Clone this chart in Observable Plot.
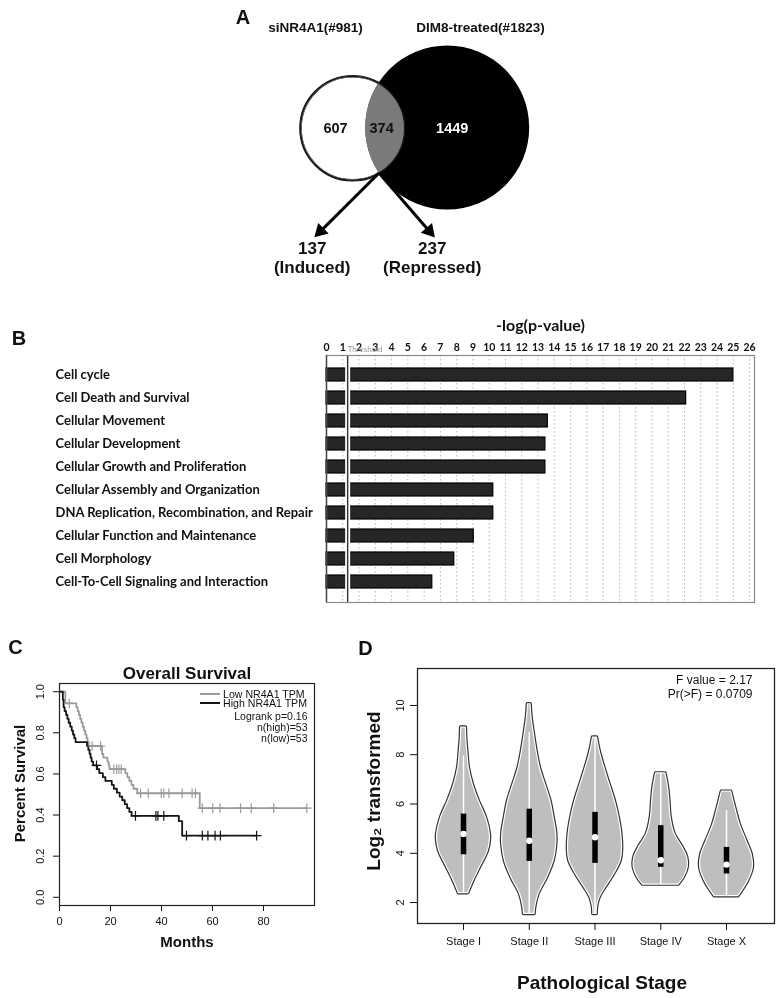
<!DOCTYPE html>
<html><head><meta charset="utf-8">
<script src="https://cdn.jsdelivr.net/npm/d3@7"></script>
<script src="https://cdn.jsdelivr.net/npm/@observablehq/plot@0.6"></script>
<style>
body{margin:0;background:#fff;}
#root{position:relative;width:777px;height:998px;overflow:hidden;background:#fff;font-family:"Liberation Sans",Arial,sans-serif;color:#111;}
.panel{position:absolute;}
.letter{position:absolute;font-weight:bold;font-size:20px;line-height:1;transform:translate(-50%,-50%);}
.leg{position:absolute;font-size:10.6px;line-height:1;white-space:nowrap;transform:translateY(-50%);}
.sw{position:absolute;height:0;}
</style></head><body><div id="root"></div>
<script>
// ================= DATA =================
// Panel A – Venn
const vennSetNames = ["siNR4A1(#981)", "DIM8-treated(#1823)"];
const vennSetSizes = [981, 1823];
const vennRegionCounts = [607, 374, 1449];          // only siNR4A1, overlap, only DIM8
const overlapSplitCounts = [137, 237];
const overlapSplitLabels = ["(Induced)", "(Repressed)"];

// Panel B – pathway enrichment
const pathwayCategories = [
  "Cell cycle", "Cell Death and Survival", "Cellular Movement", "Cellular Development",
  "Cellular Growth and Proliferation", "Cellular Assembly and Organization",
  "DNA Replication, Recombination, and Repair", "Cellular Function and Maintenance",
  "Cell Morphology", "Cell-To-Cell Signaling and Interaction"
];
const pathwayScores = [25.0, 22.1, 13.6, 13.45, 13.45, 10.25, 10.25, 9.05, 7.85, 6.5];
const thresholdScore = 1.3;
const pathwayTicks = d3.range(0, 27);

// Panel C – Kaplan-Meier
const kmLowTimes = [0, 2.3, 6.6, 7.1, 7.6, 8.1, 8.6, 9.1, 9.6, 10.1, 10.6, 11.0, 11.5, 16.7, 17.2, 18.8, 19.3, 19.6, 25.8, 26.6, 27.4, 28.2, 29.0, 30.5, 55.0];
const kmLowSurv  = [1.0, 0.943, 0.925, 0.906, 0.887, 0.868, 0.849, 0.830, 0.811, 0.792, 0.774, 0.755, 0.736, 0.698, 0.679, 0.660, 0.642, 0.623, 0.604, 0.585, 0.566, 0.547, 0.528, 0.506, 0.434];
const kmLowEnd = 97;
const kmLowCensor = [3.8, 12.8, 16.1, 21.3, 22.4, 23.3, 24.2, 31.8, 34.8, 39.9, 40.9, 42.9, 48.1, 52.0, 53.3, 56.0, 60.1, 62.9, 71.0, 75.2, 84.0, 97.0];
const kmHighTimes = [0, 1.3, 1.6, 2.0, 2.6, 3.1, 3.6, 4.2, 4.8, 5.3, 5.8, 6.3, 10.8, 11.3, 11.8, 12.2, 12.6, 13.2, 14.8, 15.6, 17.0, 18.0, 20.5, 21.3, 22.5, 23.6, 24.6, 25.6, 26.5, 27.4, 28.3, 46.8, 48.1];
const kmHighSurv  = [1.0, 0.962, 0.925, 0.906, 0.887, 0.868, 0.849, 0.830, 0.811, 0.792, 0.774, 0.755, 0.736, 0.717, 0.698, 0.679, 0.660, 0.642, 0.623, 0.604, 0.585, 0.566, 0.547, 0.528, 0.509, 0.490, 0.472, 0.453, 0.434, 0.415, 0.396, 0.370, 0.300];
const kmHighEnd = 77.3;
const kmHighCensor = [14.5, 29.8, 37.8, 38.6, 40.9, 49.8, 56.0, 58.2, 61.0, 63.1, 77.3];
const kmXTicks = [0, 20, 40, 60, 80];
const kmYTicks = [0, 0.2, 0.4, 0.6, 0.8, 1.0];
const kmGroups = ["Low NR4A1 TPM", "High NR4A1 TPM"];
const kmStats = ["Logrank p=0.16", "n(high)=53", "n(low)=53"];

// Panel D – violin plot (value, relative half-width of density)
const stageNames = ["Stage I", "Stage II", "Stage III", "Stage IV", "Stage X"];
const violinStageI   = [[2.38,0.07],[2.89,0.15],[3.43,0.25],[4.1,0.37],[4.5,0.40],[4.78,0.40],[5.45,0.34],[6.13,0.23],[6.8,0.14],[7.48,0.08],[8.15,0.056],[8.6,0.042],[9.1,0.035]];
const violinStageII  = [[1.54,0.08],[1.81,0.09],[2.35,0.14],[3.02,0.27],[3.7,0.37],[4.37,0.41],[4.78,0.41],[5.45,0.37],[6.13,0.32],[6.8,0.24],[7.48,0.16],[8.15,0.11],[8.83,0.07],[9.5,0.035],[10.05,0.02]];
const violinStageIII = [[1.54,0.025],[1.81,0.03],[2.21,0.07],[2.62,0.16],[3.16,0.29],[3.7,0.39],[4.1,0.41],[4.78,0.40],[5.45,0.36],[6.13,0.30],[6.8,0.22],[7.48,0.14],[8.15,0.07],[8.7,0.03]];
const violinStageIV  = [[2.73,0.27],[3.02,0.35],[3.43,0.41],[3.84,0.40],[4.24,0.33],[4.78,0.21],[5.45,0.15],[6.13,0.13],[6.67,0.11],[7.24,0.07]];
const violinStageX   = [[2.26,0.18],[2.89,0.33],[3.43,0.40],[3.97,0.38],[4.51,0.30],[5.18,0.20],[5.86,0.13],[6.5,0.07]];
const stageMin       = [2.38, 1.54, 1.54, 2.73, 2.26];
const stageUpper     = [7.95, 8.9, 8.7, 7.24, 5.73];
const stageQ1        = [3.94, 3.67, 3.59, 3.43, 3.16];
const stageMedian    = [4.78, 4.51, 4.65, 3.72, 3.54];
const stageQ3        = [5.59, 5.79, 5.66, 5.12, 4.24];
const violinYTicks = [2, 4, 6, 8, 10];
const anovaText = ["F value = 2.17", "Pr(>F) = 0.0709"];

// ================= LAYOUT =================
const root = document.getElementById("root");
function place(node, left, top) {
  const d = document.createElement("div");
  d.className = "panel"; d.style.left = left + "px"; d.style.top = top + "px";
  d.appendChild(node); root.appendChild(d); return d;
}
function letter(t, x, y) {
  const d = document.createElement("div");
  d.className = "letter"; d.textContent = t; d.style.left = x + "px"; d.style.top = y + "px";
  root.appendChild(d);
}

// ---------- Panel A ----------
const vennLayout = {centers: [[122, 127.8], [216.7, 127]], radius: [52, 82]};
const vennCircles = vennSetSizes.map((size, i) => ({size, name: vennSetNames[i], cx: vennLayout.centers[i][0], cy: vennLayout.centers[i][1]}));
(function () {
  const [c1, c2] = vennLayout.centers, [r1, r2] = vennLayout.radius;
  const dx = c2[0] - c1[0], dy = c2[1] - c1[1], d = Math.hypot(dx, dy);
  const a = (d * d + r1 * r1 - r2 * r2) / (2 * d), h = Math.sqrt(r1 * r1 - a * a);
  const px = c1[0] + a * dx / d, py = c1[1] + a * dy / d;
  vennLayout.lowerPoint = [px - h * dy / d, py + h * dx / d];
  vennLayout.lensCenter = [px, py];
})();
const vennRegions = [
  {count: vennRegionCounts[0], x: 105, y: vennLayout.lensCenter[1], fill: "#111"},
  {count: vennRegionCounts[1], x: vennLayout.lensCenter[0] + 3, y: vennLayout.lensCenter[1], fill: "#111"},
  {count: vennRegionCounts[2], x: 221.7, y: vennLayout.lensCenter[1], fill: "#fff"}
];
const splitX = [81.7, 201.7];
const vennSplit = overlapSplitCounts.map((c, i) => ({count: c, label: overlapSplitLabels[i], x: splitX[i]}));
const vennArrows = vennSplit.map((s, i) => {
  const x1 = vennLayout.lowerPoint[0], y1 = vennLayout.lowerPoint[1];
  const x2 = s.x + (i ? 0 : 5), y2 = 234;
  const L = Math.hypot(x2 - x1, y2 - y1), ux = (x2 - x1) / L, uy = (y2 - y1) / L;
  return {x1, y1, x2, y2, lx: x2 - 7 * ux, ly: y2 - 7 * uy, hx: x2 - 4.5 * ux, hy: y2 - 4.5 * uy,
          angle: Math.atan2(ux, -uy) * 180 / Math.PI};
});
const titleX = [85, 250];

const plotA = Plot.plot({
  width: 420, height: 290, margin: 0,
  x: {domain: [0, 420], axis: null}, y: {domain: [290, 0], axis: null},
  r: {type: "linear", domain: vennSetSizes, range: vennLayout.radius},
  style: {fontFamily: "Liberation Sans, Arial, sans-serif", background: "white", color: "#111"},
  marks: [
    Plot.dot([vennCircles[0]], {x: "cx", y: "cy", r: "size", fill: "none", stroke: "#1a1a1a", strokeWidth: 2.6}),
    Plot.dot([vennCircles[1]], {x: "cx", y: "cy", r: "size", fill: "#000"}),
    Plot.dot([vennCircles[0]], {x: "cx", y: "cy", r: "size", fill: "#7a7a7a", stroke: "#a8a8a8", strokeWidth: 1, mixBlendMode: "lighten"}),
    Plot.dot([vennCircles[0]], {x: "cx", y: "cy", r: "size", fill: "none", stroke: "#1a1a1a", strokeWidth: 1.3, mixBlendMode: "darken"}),
    Plot.link(vennArrows, {x1: "x1", y1: "y1", x2: "lx", y2: "ly", stroke: "#000", strokeWidth: 3}),
    Plot.dot(vennArrows, {x: "hx", y: "hy", symbol: "triangle", r: 5.5, fill: "#000", rotate: "angle"}),
    Plot.text(vennCircles, {x: (d, i) => titleX[i], y: 27, text: "name", fontSize: 13.5, fontWeight: "bold"}),
    Plot.text(vennRegions, {x: "x", y: "y", text: d => String(d.count), fill: "fill", fontSize: 14.5, fontWeight: "bold"}),
    Plot.text(vennSplit, {x: "x", y: 248, text: d => String(d.count), fontSize: 17, fontWeight: "bold"}),
    Plot.text(vennSplit, {x: "x", y: 267, text: "label", fontSize: 17, fontWeight: "bold"})
  ]
});
place(plotA, 230, 0);

// ---------- Panel B ----------
const pathwayRows = pathwayCategories.map((c, i) => ({category: c, score: pathwayScores[i]}));
const plotB = Plot.plot({
  width: 777, height: 300, marginLeft: 326, marginRight: 23, marginTop: 45, marginBottom: 8,
  x: {domain: [0, 26.3], axis: "top", ticks: pathwayTicks, tickSize: 0, tickPadding: 5, label: null},
  y: {domain: pathwayCategories, paddingInner: 0.42, paddingOuter: 0.55, axis: null},
  style: {fontFamily: "Lato, Calibri, sans-serif", fontWeight: "bold", fontSize: "10.5px", background: "white", color: "#111"},
  marks: [
    Plot.ruleX(pathwayTicks.filter(t => t > 0), {stroke: "#b5b5b5", strokeDasharray: "1.5,2.5", strokeWidth: 1}),
    Plot.barX(pathwayRows, {x: "score", y: "category", fill: "#262626", stroke: "#000", strokeWidth: 1.2}),
    Plot.ruleX([thresholdScore], {stroke: "#fff", strokeWidth: 5}),
    Plot.ruleX([thresholdScore], {stroke: "#333", strokeWidth: 1.4}),
    Plot.frame({stroke: "#8a8a8a", strokeWidth: 1.2}),
    Plot.ruleX([0], {stroke: "#444", strokeWidth: 1.4}),
    Plot.text(pathwayRows, {y: "category", text: "category", frameAnchor: "left", textAnchor: "start", lineAnchor: "middle", dx: -271, fontSize: 13, fill: "#111"}),
    Plot.text(["-log(p-value)"], {frameAnchor: "top", lineAnchor: "middle", dy: -30, fontSize: 16, fill: "#111"}),
    Plot.text(["Threshold"], {x: thresholdScore, frameAnchor: "top", textAnchor: "start", lineAnchor: "middle", dy: -6, dx: 0, fontSize: 8, fontWeight: "normal", fill: "#9a9a9a"})
  ]
});
place(plotB, 0, 310);

// ---------- Panel C ----------
function kmRows(group, times, surv, end) {
  return [...times.map((t, i) => ({group, t, s: surv[i]})), {group, t: end, s: surv[surv.length - 1]}];
}
function stepValue(times, surv, t) {
  let v = surv[0];
  for (let i = 0; i < times.length; i++) if (times[i] <= t) v = surv[i];
  return v;
}
const kmLow = kmRows(kmGroups[0], kmLowTimes, kmLowSurv, kmLowEnd);
const kmHigh = kmRows(kmGroups[1], kmHighTimes, kmHighSurv, kmHighEnd);
const kmLowCens = kmLowCensor.map(t => ({t, s: stepValue(kmLowTimes, kmLowSurv, t)}));
const kmHighCens = kmHighCensor.map(t => ({t, s: stepValue(kmHighTimes, kmHighSurv, t)}));
const kmColors = ["#9b9b9b", "#151515"];

const plotC = Plot.plot({
  width: 340, height: 310, marginLeft: 59, marginRight: 26, marginTop: 43, marginBottom: 45,
  x: {domain: [0, 100], ticks: kmXTicks, tickSize: 6, tickPadding: 6, label: null},
  y: {domain: [-0.04, 1.04], ticks: kmYTicks, tickSize: 6, tickFormat: () => "", label: null},
  style: {fontFamily: "Liberation Sans, Arial, sans-serif", fontSize: "11px", background: "white", color: "#111"},
  marks: [
    Plot.line(kmLow, {x: "t", y: "s", curve: "step-after", stroke: kmColors[0], strokeWidth: 1.8}),
    Plot.line(kmHigh, {x: "t", y: "s", curve: "step-after", stroke: kmColors[1], strokeWidth: 1.8}),
    Plot.dot(kmLowCens, {x: "t", y: "s", symbol: "plus", r: 3.2, stroke: kmColors[0], strokeWidth: 1.2}),
    Plot.dot(kmHighCens, {x: "t", y: "s", symbol: "plus", r: 3.2, stroke: kmColors[1], strokeWidth: 1.2}),
    Plot.frame({stroke: "#222", strokeWidth: 1.2}),
    Plot.text(kmYTicks, {y: d => d, text: d => d.toFixed(1), frameAnchor: "left", textAnchor: "middle", lineAnchor: "middle", dx: -19, rotate: -90, fontSize: 11}),
    Plot.text(["Overall Survival"], {frameAnchor: "top", lineAnchor: "middle", dy: -10, fontSize: 17, fontWeight: "bold"}),
    Plot.text(["Percent Survival"], {frameAnchor: "left", textAnchor: "middle", lineAnchor: "middle", dx: -39, dy: -11, rotate: -90, fontSize: 15, fontWeight: "bold"}),
    Plot.text(["Months"], {frameAnchor: "bottom", lineAnchor: "middle", dy: 37, fontSize: 15, fontWeight: "bold"}),
    Plot.text([kmStats.join("\n")], {frameAnchor: "top-right", textAnchor: "end", lineAnchor: "top", lineHeight: 1.05, dx: -7, dy: 28.5, fontSize: 10.5})
  ]
});
place(plotC, 0, 640);
// legend for C
kmGroups.forEach((g, i) => {
  const y = 694 + i * 8.5;
  const sw = document.createElement("div");
  sw.className = "sw"; sw.style.left = "200px"; sw.style.top = (y - 1) + "px"; sw.style.width = "20px";
  sw.style.borderTop = `2px solid ${kmColors[i]}`;
  root.appendChild(sw);
  const t = document.createElement("div");
  t.className = "leg"; t.textContent = g; t.style.left = "223px"; t.style.top = y + "px";
  root.appendChild(t);
});

// ---------- Panel D ----------
const violinProfiles = [violinStageI, violinStageII, violinStageIII, violinStageIV, violinStageX];
const violinRows = stageNames.flatMap((s, i) => violinProfiles[i].map(([v, w]) => ({stage: s, pos: i + 1, value: v, hw: w})));
const stageStats = stageNames.map((s, i) => ({stage: s, pos: i + 1, min: stageMin[i], upper: stageUpper[i], q1: stageQ1[i], median: stageMedian[i], q3: stageQ3[i]}));

const plotD = Plot.plot({
  width: 437, height: 358, marginLeft: 77, marginRight: 3, marginTop: 28, marginBottom: 75,
  x: {domain: [0.3, 5.73], ticks: [1, 2, 3, 4, 5], tickFormat: d => stageNames[d - 1], tickSize: 7, tickPadding: 7, label: null},
  y: {domain: [1.15, 11.5], ticks: violinYTicks, tickSize: 7, tickFormat: () => "", label: null},
  style: {fontFamily: "Liberation Sans, Arial, sans-serif", fontSize: "11px", background: "white", color: "#111"},
  marks: [
    Plot.areaX(violinRows, {y: "value", x1: d => d.pos - d.hw, x2: d => d.pos + d.hw, z: "stage", fill: "#333", stroke: "#333", strokeWidth: 3.6, curve: "catmull-rom"}),
    Plot.areaX(violinRows, {y: "value", x1: d => d.pos - d.hw, x2: d => d.pos + d.hw, z: "stage", fill: "#bebebe", stroke: "#fff", strokeWidth: 1.2, curve: "catmull-rom"}),
    Plot.ruleX(stageStats, {x: "pos", y1: "min", y2: "upper", stroke: "#fff", strokeWidth: 1.5}),
    Plot.ruleX(stageStats, {x: "pos", y1: "q1", y2: "q3", stroke: "#000", strokeWidth: 5.5}),
    Plot.dot(stageStats, {x: "pos", y: "median", r: 3.2, fill: "#fff"}),
    Plot.frame({stroke: "#222", strokeWidth: 1.3}),
    Plot.text(violinYTicks, {y: d => d, text: d => String(d), frameAnchor: "left", textAnchor: "middle", lineAnchor: "middle", dx: -17, rotate: -90, fontSize: 11}),
    Plot.text(["Log₂ transformed"], {frameAnchor: "left", textAnchor: "middle", lineAnchor: "middle", dx: -44, dy: -5, rotate: -90, fontSize: 19, fontWeight: "bold"}),
    Plot.text(["Pathological Stage"], {frameAnchor: "bottom", lineAnchor: "middle", dy: 59, dx: 6, fontSize: 19, fontWeight: "bold"}),
    Plot.text([anovaText.join("\n")], {frameAnchor: "top-right", textAnchor: "end", lineAnchor: "top", lineHeight: 1.2, dx: -22, dy: 5, fontSize: 12})
  ]
});
place(plotD, 340, 640);

// Panel letters
letter("A", 243, 17);
letter("B", 19, 338);
letter("C", 15.5, 647);
letter("D", 365.5, 648);
</script>
</body></html>
